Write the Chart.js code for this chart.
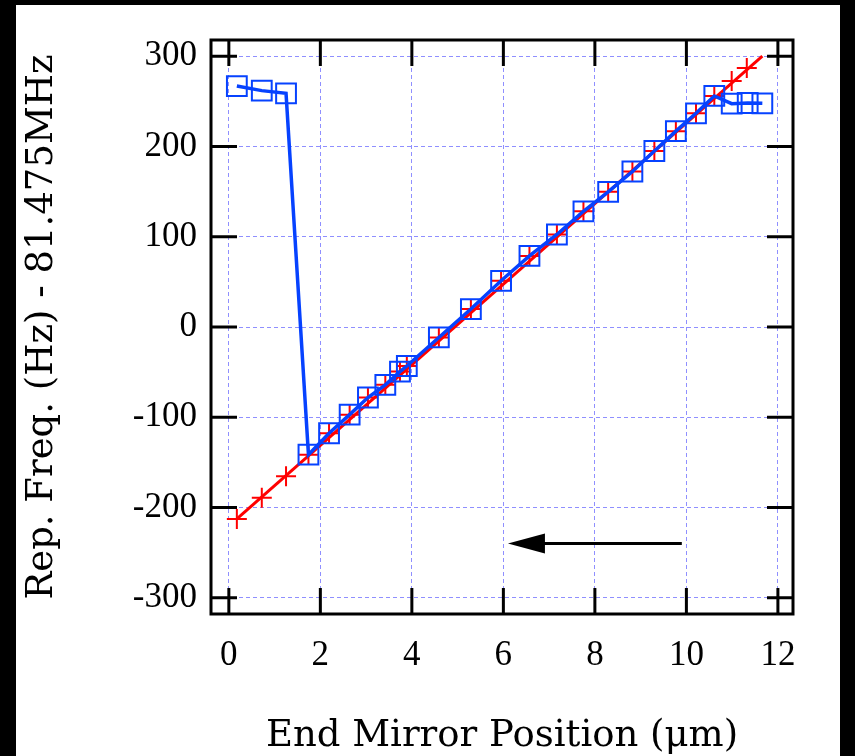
<!DOCTYPE html>
<html lang="en">
<head>
    <meta charset="UTF-8">
    <title>Rep. Freq. vs End Mirror Position</title>
    <script src="https://cdn.jsdelivr.net/npm/chart.js"></script>
    <style>
        body {
            margin: 0;
            background-color: #000;
            width: 855px;
            height: 756px;
            overflow: hidden;
        }

        #chart-container {
            position: absolute;
            left: 16px;
            top: 5px;
            width: 824px;
            height: 751px;
            background-color: white;
        }
    </style>
</head>
<body>
    <div id="chart-container">
        <canvas id="mirrorChart" width="824" height="751"></canvas>
    </div>

    <script>
        // blue squares (measured) - x in um, y in Hz
        const blueX = [0.175, 0.72, 1.25, 1.74, 2.19, 2.64, 3.04, 3.42, 3.74, 3.89, 4.59, 5.29, 5.95, 6.57,
                       7.17, 7.75, 8.29, 8.82, 9.30, 9.77, 10.21, 10.61, 10.99, 11.34, 11.66];
        const blueY = [267.0, 261.9, 258.9, -141.5, -117.7, -97.1, -78.1, -64.1, -49.4, -43.2, -11.6, 19.9, 51.2, 78.7,
                       102.5, 128.2, 149.8, 172.3, 195.0, 217.0, 236.8, 256.0, 247.5, 248.2, 247.8];

        // red crosses
        const redX = [0.175, 0.72, 1.25, 1.74, 2.19, 2.64, 3.04, 3.42, 3.74, 3.89, 4.59, 5.29, 5.95, 6.57,
                      7.17, 7.75, 8.29, 8.82, 9.30, 9.77, 10.21, 10.61, 10.99, 11.32];
        const redY = [-212.7, -189.2, -165.4, -141.5, -117.7, -97.1, -78.1, -64.1, -49.4, -43.2, -11.6, 19.9, 51.2, 78.7,
                      102.5, 128.2, 149.8, 172.3, 195.0, 217.0, 236.8, 256.0, 272.5, 287.0];

        // red straight line ends
        const fitX = [0.175, 11.66];
        const fitY = [-212.7, 300];

        const xTicks = [0, 2, 4, 6, 8, 10, 12];
        const yTicks = [-300, -200, -100, 0, 100, 200, 300];

        // arrow (data coords)
        const arrowFrom = [9.9, -240];
        const arrowTo = [6.1, -240];

        const toPoints = (xs, ys) => xs.map((x, i) => ({ x: x, y: ys[i] }));

        const serif = "'Liberation Serif', 'DejaVu Serif', serif";
        const titleSerif = "'DejaVu Serif', 'Liberation Serif', serif";

        // frame, inward tick marks on all four sides, and the arrow
        const framePlugin = {
            id: 'frame',
            afterDatasetsDraw(chart) {
                const ctx = chart.ctx;
                const a = chart.chartArea;
                const xs = chart.scales.x;
                const ys = chart.scales.y;
                const tl = 26;

                ctx.save();
                ctx.strokeStyle = '#000';
                ctx.lineWidth = 3;
                ctx.lineCap = 'butt';

                ctx.beginPath();
                xTicks.forEach(v => {
                    const px = xs.getPixelForValue(v);
                    ctx.moveTo(px, a.bottom); ctx.lineTo(px, a.bottom - tl);
                    ctx.moveTo(px, a.top); ctx.lineTo(px, a.top + tl);
                });
                yTicks.forEach(v => {
                    const py = ys.getPixelForValue(v);
                    ctx.moveTo(a.left, py); ctx.lineTo(a.left + tl, py);
                    ctx.moveTo(a.right, py); ctx.lineTo(a.right - tl, py);
                });
                ctx.stroke();

                ctx.strokeRect(a.left, a.top, a.right - a.left, a.bottom - a.top);

                // arrow
                const x0 = xs.getPixelForValue(arrowFrom[0]);
                const y0 = ys.getPixelForValue(arrowFrom[1]);
                const x1 = xs.getPixelForValue(arrowTo[0]);
                const y1 = ys.getPixelForValue(arrowTo[1]);
                const headLen = 37, headHalf = 10;
                ctx.lineWidth = 3;
                ctx.beginPath();
                ctx.moveTo(x0, y0);
                ctx.lineTo(x1 + headLen - 2, y1);
                ctx.stroke();
                ctx.fillStyle = '#000';
                ctx.beginPath();
                ctx.moveTo(x1, y1);
                ctx.lineTo(x1 + headLen, y1 - headHalf);
                ctx.lineTo(x1 + headLen, y1 + headHalf);
                ctx.closePath();
                ctx.fill();
                ctx.restore();
            }
        };

        const ctx = document.getElementById('mirrorChart').getContext('2d');
        const mirrorChart = new Chart(ctx, {
            type: 'scatter',
            data: {
                datasets: [
                    {
                        label: 'measured',
                        data: toPoints(blueX, blueY),
                        showLine: true,
                        borderColor: '#0642ff',
                        borderWidth: 3.5,
                        pointStyle: 'rect',
                        pointRadius: 14,
                        pointBorderWidth: 2,
                        pointBorderColor: '#0642ff',
                        pointBackgroundColor: 'rgba(0,0,0,0)',
                        tension: 0
                    },
                    {
                        label: 'crosses',
                        data: toPoints(redX, redY),
                        showLine: false,
                        pointStyle: 'cross',
                        pointRadius: 10,
                        pointBorderWidth: 2,
                        pointBorderColor: '#ff0000',
                        borderColor: '#ff0000'
                    },
                    {
                        label: 'line',
                        data: toPoints(fitX, fitY),
                        showLine: true,
                        borderColor: '#ff0000',
                        borderWidth: 3,
                        pointRadius: 0
                    }
                ]
            },
            options: {
                responsive: false,
                animation: false,
                events: [],
                layout: {
                    padding: { left: 0, top: 32, right: 47, bottom: 0 }
                },
                plugins: {
                    legend: { display: false },
                    tooltip: { enabled: false }
                },
                scales: {
                    x: {
                        type: 'linear',
                        min: -0.39,
                        max: 12.33,
                        afterBuildTicks: scale => { scale.ticks = xTicks.map(v => ({ value: v })); },
                        afterFit: scale => { scale.height = 142; },
                        grid: {
                            color: '#8f8fff',
                            lineWidth: 1,
                            drawTicks: false
                        },
                        border: { display: false, dash: [4, 3] },
                        ticks: {
                            color: '#000',
                            padding: 21,
                            maxRotation: 0,
                            font: { family: serif, size: 35 }
                        },
                        title: {
                            display: true,
                            text: 'End Mirror Position (μm)',
                            color: '#000',
                            padding: { top: 0, bottom: -3 },
                            font: { family: titleSerif, size: 37 }
                        }
                    },
                    y: {
                        type: 'linear',
                        min: -318,
                        max: 318,
                        afterBuildTicks: scale => { scale.ticks = yTicks.map(v => ({ value: v })); },
                        afterFit: scale => { scale.width = 195; },
                        grid: {
                            color: '#8f8fff',
                            lineWidth: 1,
                            drawTicks: false
                        },
                        border: { display: false, dash: [4, 3] },
                        ticks: {
                            color: '#000',
                            padding: 14,
                            font: { family: serif, size: 35 }
                        },
                        title: {
                            display: true,
                            text: 'Rep. Freq. (Hz) - 81.475MHz',
                            color: '#000',
                            padding: { top: 4, bottom: 0 },
                            font: { family: titleSerif, size: 37 }
                        }
                    }
                }
            },
            plugins: [framePlugin]
        });
    </script>
</body>
</html>
